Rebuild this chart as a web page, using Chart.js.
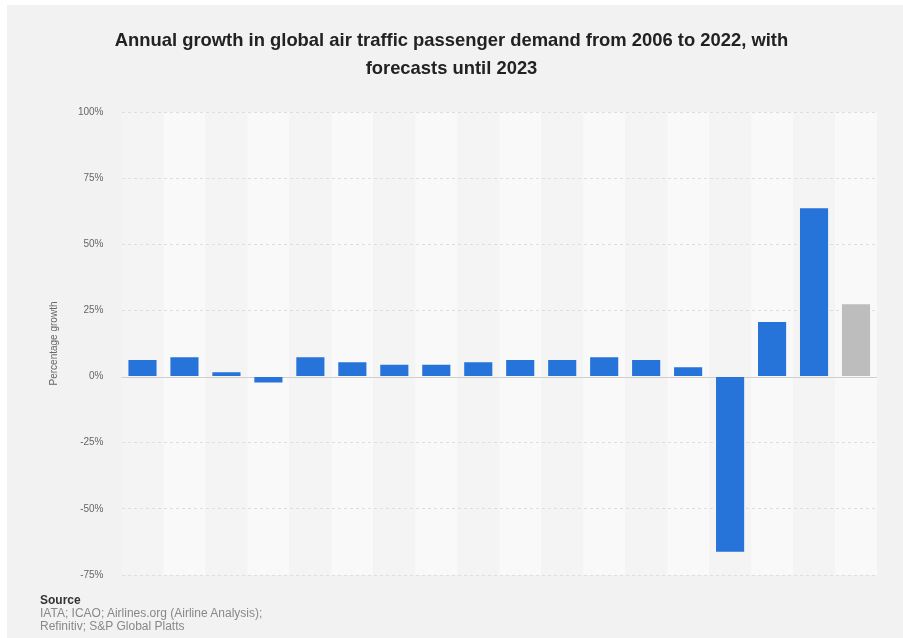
<!DOCTYPE html>
<html>
<head>
<meta charset="utf-8">
<script src="https://cdn.jsdelivr.net/npm/chart.js@4"></script>
<style>
    html, body { margin: 0; padding: 0; background: #ffffff; }
    .frame { position: absolute; left: 7px; top: 5px; width: 896px; height: 633px; background: #f2f2f2; }
    #chart-wrap { position: absolute; left: 0; top: 0; width: 903px; height: 638px; }
    .title {
        position: absolute; left: 0; top: 26px; width: 903px; text-align: center;
        font-family: "Liberation Sans", Arial, sans-serif; font-weight: bold;
        font-size: 18.4px; line-height: 28px; color: #222;
    }
    .source {
        position: absolute; left: 40px; top: 594px;
        font-family: "Liberation Sans", Arial, sans-serif; font-size: 12px; line-height: 13px; color: #888;
    }
    .source b { color: #333; }
</style>
</head>
<body>
<div class="frame"></div>
<div id="chart-wrap"><canvas id="growth-chart" width="903" height="638"></canvas></div>
<div class="title">Annual growth in global air traffic passenger demand from 2006 to 2022, with<br>forecasts until 2023</div>
<div class="source"><b>Source</b><br>IATA; ICAO; Airlines.org (Airline Analysis);<br>Refinitiv; S&amp;P Global Platts</div>

<script>
// 데이터
const years = ['2006', '2007', '2008', '2009', '2010', '2011', '2012', '2013', '2014',
    '2015', '2016', '2017', '2018', '2019', '2020', '2021', '2022', '2023*'];
const growth = [6.3, 7.3, 1.6, -2.2, 7.3, 5.4, 4.5, 4.5, 5.4, 6.3, 6.3, 7.3, 6.3, 3.5, -66.2, 20.6, 63.6, 27.3];
const barColors = years.map((y, i) => i === years.length - 1 ? '#bdbdbd' : '#2673d9');
const yTicks = [-75, -50, -25, 0, 25, 50, 75, 100];

// 세로 줄무늬 배경
const columnBands = {
    id: 'columnBands',
    beforeDraw(chart) {
        const { ctx, chartArea, scales } = chart;
        const step = scales.x.width / years.length;
        ctx.save();
        years.forEach((y, i) => {
            const cx = scales.x.getPixelForValue(i);
            ctx.fillStyle = i % 2 === 1 ? '#f9f9f9' : '#f4f4f4';
            ctx.fillRect(cx - step / 2, chartArea.top, step, chartArea.bottom - chartArea.top);
        });
        ctx.restore();
    }
};

// 0% 기준선
const zeroLine = {
    id: 'zeroLine',
    beforeDatasetsDraw(chart) {
        const { ctx, chartArea, scales } = chart;
        const y0 = Math.round(scales.y.getPixelForValue(0)) + 0.5;
        ctx.save();
        ctx.strokeStyle = '#cfcfcf';
        ctx.lineWidth = 1;
        ctx.beginPath();
        ctx.moveTo(chartArea.left, y0);
        ctx.lineTo(chartArea.right, y0);
        ctx.stroke();
        ctx.restore();
    }
};

new Chart(document.getElementById('growth-chart'), {
    type: 'bar',
    data: {
        labels: years,
        datasets: [{
            data: growth,
            backgroundColor: barColors,
            borderWidth: 0,
            categoryPercentage: 1,
            barPercentage: 0.67
        }]
    },
    options: {
        responsive: false,
        animation: false,
        layout: { padding: { top: 112, left: 48, right: 26, bottom: 63 } },
        plugins: { legend: { display: false }, tooltip: { enabled: false } },
        scales: {
            x: { display: false },
            y: {
                min: -75,
                max: 100,
                afterFit: (scale) => { scale.width = 73.5; },
                afterBuildTicks: (scale) => { scale.ticks = yTicks.map(v => ({ value: v })); },
                ticks: {
                    padding: 18,
                    color: '#666',
                    font: { family: 'Liberation Sans', size: 10 },
                    callback: (v) => v + '%'
                },
                grid: {
                    drawTicks: false,
                    color: (ctx) => ctx.tick && ctx.tick.value === 0 ? 'rgba(0,0,0,0)' : '#dedede'
                },
                border: { display: false, dash: [3, 3] },
                title: {
                    display: true,
                    text: 'Percentage growth',
                    color: '#666',
                    font: { family: 'Liberation Sans', size: 10 },
                    padding: 0
                }
            }
        }
    },
    plugins: [columnBands, zeroLine]
});
</script>
</body>
</html>
